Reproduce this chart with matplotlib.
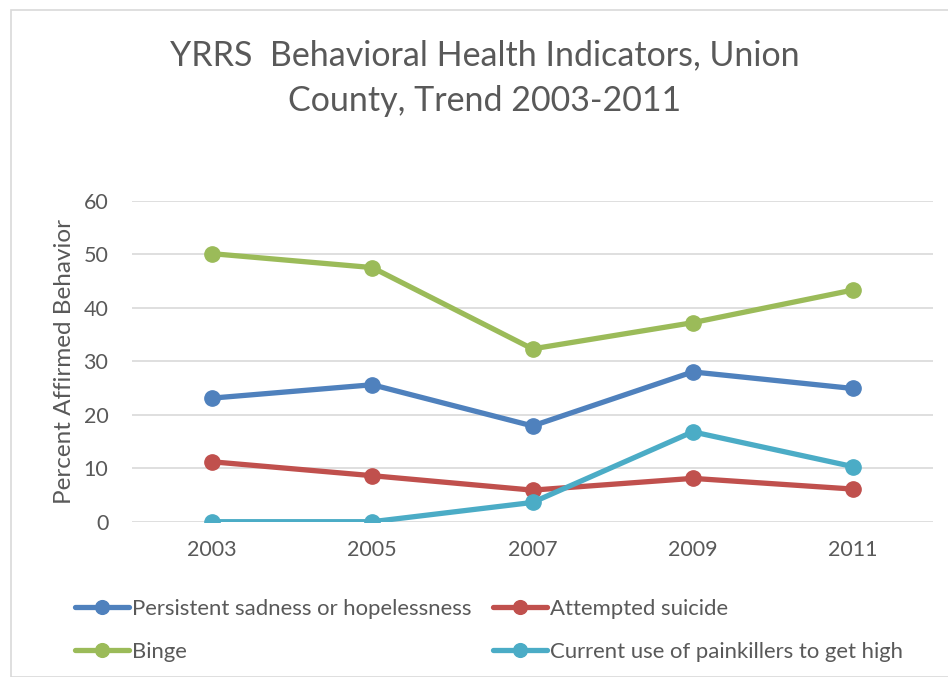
import matplotlib
matplotlib.use("Agg")
import matplotlib.pyplot as plt
from matplotlib import patches

plt.rcParams["font.family"] = ["Lato", "DejaVu Sans"]

YEARS = ["2003", "2005", "2007", "2009", "2011"]
SADNESS = [23.1, 25.6, 17.9, 28.0, 24.9]
SUICIDE = [11.2, 8.6, 5.9, 8.1, 6.1]
BINGE = [50.1, 47.5, 32.3, 37.2, 43.3]
PAINKILLERS = [0.0, 0.0, 3.6, 16.8, 10.3]

SERIES = [
    ("Persistent sadness or hopelessness", SADNESS, "#4F81BD"),
    ("Binge", BINGE, "#9BBB59"),
    ("Attempted suicide", SUICIDE, "#C0504D"),
    ("Current use of painkillers to get high", PAINKILLERS, "#4BACC6"),
]

TEXT = "#595959"
GRID = "#D9D9D9"

W, H = 948, 677
fig = plt.figure(figsize=(W / 100, H / 100), dpi=100)

# chart-area border
fig.patches.append(patches.Rectangle((11 / W, 0), 1.2, 1 - 10 / H, transform=fig.transFigure,
                                     fill=False, edgecolor="#D9D9D9", linewidth=1.2))

ax = fig.add_axes([132 / W, 1 - 521.7 / H, 801 / W, 321 / H])
x = list(range(len(YEARS)))
handles = []
for label, vals, color in SERIES:
    h, = ax.plot(x, vals, color=color, lw=3.8, marker="o", ms=11,
                 solid_capstyle="round", label=label)
    handles.append(h)

ax.set_xlim(-0.5, len(YEARS) - 0.5)
ax.set_ylim(0, 60)
ax.set_yticks(range(0, 61, 10))
ax.set_xticks(x)
ax.set_xticklabels(YEARS)
ax.tick_params(axis="both", length=0, labelsize=15.5, colors=TEXT)
ax.tick_params(axis="y", pad=17)
ax.tick_params(axis="x", pad=13)
ax.grid(True, axis="y", color=GRID, linewidth=1.2)
ax.set_axisbelow(True)
for s in ax.spines.values():
    s.set_visible(False)
ax.set_ylabel("Percent Affirmed Behavior", fontsize=17.5, color=TEXT, labelpad=6)

fig.text(485 / W, 1 - 55 / H, "YRRS  Behavioral Health Indicators, Union",
         ha="center", va="center", fontsize=24.5, color=TEXT)
fig.text(485 / W, 1 - 101 / H, "County, Trend 2003-2011",
         ha="center", va="center", fontsize=24.5, color=TEXT)

fig.legend(handles=handles, loc="upper left", bbox_to_anchor=(66 / W, 1 - 590 / H),
           ncol=2, frameon=False, fontsize=15.9, labelcolor=TEXT,
           handlelength=2.45, handletextpad=0.15, columnspacing=0.95,
           labelspacing=1.05, markerscale=0.9, borderaxespad=0)

fig.savefig("out.png", dpi=100)
